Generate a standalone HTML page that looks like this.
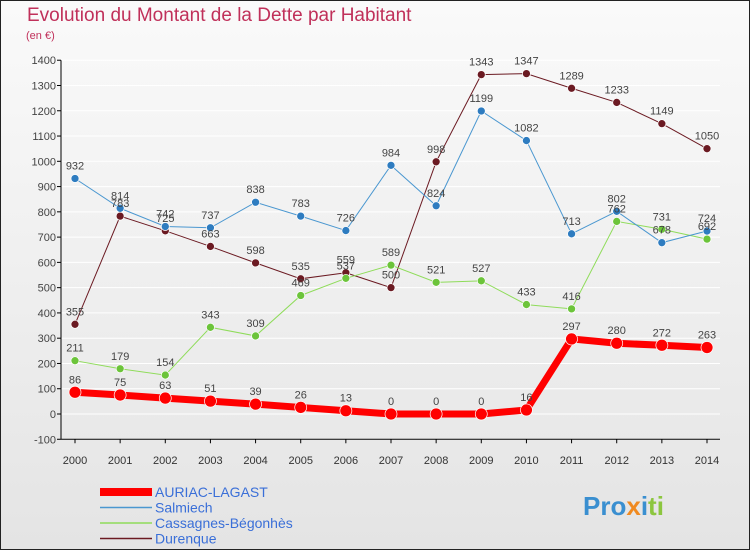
<!DOCTYPE html>
<html><head><meta charset="utf-8"><style>
html,body{margin:0;padding:0}
body{width:750px;height:550px;overflow:hidden;font-family:"Liberation Sans",sans-serif}
</style></head><body>
<svg id="c" width="750" height="550" xmlns="http://www.w3.org/2000/svg">
<defs><linearGradient id="bg" x1="0" y1="0" x2="0" y2="1"><stop offset="0" stop-color="#fafafa"/><stop offset="1" stop-color="#e4e4e4"/></linearGradient></defs>
<rect x="0.5" y="0.5" width="749" height="549" fill="url(#bg)" stroke="#222"/>
<text x="27" y="21" font-size="19" fill="#c0305a">Evolution du Montant de la Dette par Habitant</text>
<text x="26" y="39" font-size="11" fill="#c0305a">(en €)</text>
<g id="grid"></g><g id="axes"></g><g id="series"></g><g id="labels"></g>
<g id="legend"></g>
<text x="583" y="515" font-size="26" font-weight="bold"><tspan fill="#3a8fd0">Pro</tspan><tspan fill="#f08a20">x</tspan><tspan fill="#3a8fd0">i</tspan><tspan fill="#8cc63f">ti</tspan></text>
</svg>
<script>
const years=[2000,2001,2002,2003,2004,2005,2006,2007,2008,2009,2010,2011,2012,2013,2014];
const yTicks=[-100,0,100,200,300,400,500,600,700,800,900,1000,1100,1200,1300,1400];
const auriac=[86,75,63,51,39,26,13,0,0,0,16,297,280,272,263];
const salmiech=[932,814,742,737,838,783,726,984,824,1199,1082,713,802,678,724];
const cassagnes=[211,179,154,343,309,469,537,589,521,527,433,416,762,731,692];
const durenque=[355,783,725,663,598,535,559,500,998,1343,1347,1289,1233,1149,1050];
const NS="http://www.w3.org/2000/svg";
const X=i=>75+i*(707-75)/(years.length-1);
const Y=v=>414-v*0.2527;
function mk(t,a,p){const e=document.createElementNS(NS,t);for(const k in a)e.setAttribute(k,a[k]);document.getElementById(p).appendChild(e);return e;}
let e;
yTicks.forEach(v=>{
 e=mk('line',{x1:61,x2:720,y1:Y(v),y2:Y(v),stroke:'#fff','stroke-width':1},'grid');
 
 
 e=mk('line',{x1:57,x2:61,y1:Y(v),y2:Y(v),stroke:'#000'},'axes');
 
 
 e=mk('text',{x:56,y:Y(v)+4,'font-size':11,'text-anchor':'end',fill:'#444'},'axes');e.textContent=v;
 
 
});
e=mk('line',{x1:61,x2:61,y1:Y(1400),y2:Y(-100),stroke:'#000'},'axes');


e=mk('line',{x1:61,x2:720,y1:Y(-100),y2:Y(-100),stroke:'#000'},'axes');


years.forEach((y,i)=>{
 e=mk('line',{x1:X(i),x2:X(i),y1:Y(-100),y2:Y(-100)+4,stroke:'#000'},'axes');
 
 
 e=mk('text',{x:X(i),y:464,'font-size':11,'text-anchor':'middle',fill:'#333'},'axes');e.textContent=y;
 
 
});
const series=[[durenque,'#6b1a22','#6b1a22',1,4,'durenque'],[cassagnes,'#8fdc5a','#6cc43a',1,4,'cassagnes'],[salmiech,'#4a97d0','#2e7cc0',1,4,'salmiech'],[auriac,'#ff0000','#ff0000',7,6,'auriac']];
series.forEach(([d,c,f,w,r,n])=>{
 e=mk('polyline',{points:d.map((v,i)=>X(i)+','+Y(v)).join(' '),fill:'none',stroke:c,'stroke-width':w},'series');
 
 
 d.forEach((v,i)=>{
  e=mk('circle',{cx:X(i),cy:Y(v),r:r,fill:f,stroke:'#fff','stroke-width':0.7},'series');
  
  
  e=mk('text',{x:X(i),y:Y(v)-9,'font-size':11,'text-anchor':'middle',fill:'#444'},'labels');e.textContent=v;
  
  
 });
});
const legNames=['AURIAC-LAGAST','Salmiech','Cassagnes-Bégonhès','Durenque'];
const legCol=['#ff0000','#4a97d0','#8fdc5a','#6b1a22'];
const legW=[8,1.5,1.5,1.5];
legNames.forEach((n,i)=>{
 const y=492+i*15.5;
 e=mk('line',{x1:100,x2:152,y1:y,y2:y,stroke:legCol[i],'stroke-width':legW[i]},'legend');
 
 
 e=mk('text',{x:155,y:y+5,'font-size':14,fill:'#3a6fd8'},'legend');e.textContent=n;
 
 
});
</script>
</body></html>
